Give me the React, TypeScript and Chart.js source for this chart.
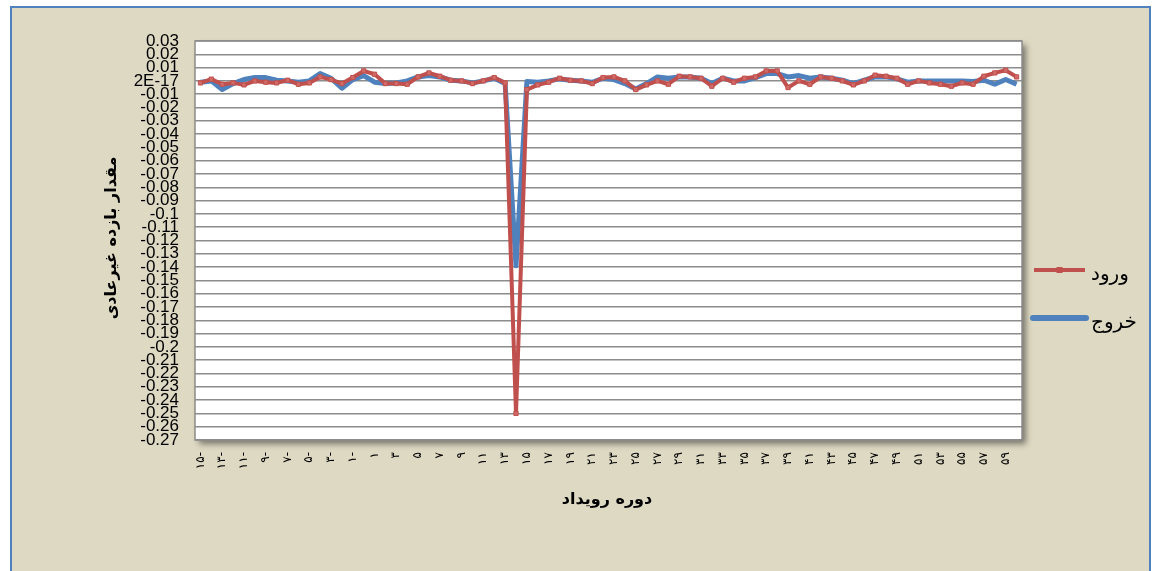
import React, { useEffect, useRef } from 'react';
import { Chart, registerables } from 'chart.js';

Chart.register(...registerables);

// Event window (days)
const categories = [
  -15, -14, -13, -12, -11, -10, -9, -8, -7, -6, -5, -4, -3, -2, -1, 0,
  1, 2, 3, 4, 5, 6, 7, 8, 9, 10, 11, 12, 13, 14, 15, 16, 17, 18, 19, 20,
  21, 22, 23, 24, 25, 26, 27, 28, 29, 30, 31, 32, 33, 34, 35, 36, 37, 38, 39, 40,
  41, 42, 43, 44, 45, 46, 47, 48, 49, 50, 51, 52, 53, 54, 55, 56, 57, 58, 59, 60,
];

// ورود (entry)
const entryValues = [
  -0.0015, 0.0013, -0.0025, -0.0015, -0.003, 0, -0.001, -0.0015, 0.0005, -0.0025,
  -0.0015, 0.003, 0.001, -0.002, 0.0025, 0.0075, 0.005, -0.002, -0.002, -0.0025,
  0.003, 0.006, 0.0035, 0.0005, 0, -0.002, 0, 0.0025, -0.0015, -0.25,
  -0.0065, -0.003, -0.001, 0.002, 0.0005, 0, -0.002, 0.0025, 0.003, 0,
  -0.0065, -0.003, 0, -0.0025, 0.0035, 0.003, 0.002, -0.004, 0.002, -0.001,
  0.002, 0.003, 0.0075, 0.0075, -0.005, 0, -0.0025, 0.003, 0.002, 0,
  -0.003, 0, 0.0043, 0.0035, 0.002, -0.0025, 0, -0.0015, -0.0025, -0.004,
  -0.0015, -0.0025, 0.0035, 0.006, 0.008, 0.003,
];

// خروج (exit)
const exitValues = [
  -0.001, 0, -0.0065, -0.002, 0.001, 0.0025, 0.0025, 0.0005, 0, -0.001,
  0, 0.0055, 0.002, -0.0055, 0.001, 0.004, -0.001, -0.002, -0.0015, 0,
  0.003, 0.004, 0.003, 0.0005, 0, -0.0015, 0, 0.002, -0.002, -0.139,
  -0.0005, -0.001, 0, 0.0015, 0.0005, 0, -0.001, 0.002, 0.001, -0.002,
  -0.006, -0.002, 0.003, 0.002, 0.003, 0.003, 0.002, -0.002, 0.002, 0,
  0, 0.0025, 0.0055, 0.0055, 0.003, 0.004, 0.002, 0.003, 0.002, 0.0005,
  -0.002, 0.0005, 0.003, 0.003, 0.0015, -0.001, 0, 0, 0, 0,
  0, -0.0005, 0.0005, -0.0025, 0.001, -0.0025,
];

const seriesNames = ['ورود', 'خروج'];
const seriesColors = ['#C0504D', '#4F81BD'];
const yTitle = 'مقدار بازده غیرعادی';
const xTitle = 'دوره رویداد';
const yMin = -0.27;
const yMax = 0.03;
const yStep = 0.01;
const zeroLabel = '2E-17';

const faDigits = '۰۱۲۳۴۵۶۷۸۹';
function toPersian(n: number): string {
  const s = String(Math.abs(n)).replace(/[0-9]/g, (d) => faDigits[Number(d)]);
  return n < 0 ? s + '-' : s;
}

function formatY(v: number): string {
  if (Math.abs(v) < 1e-9) return zeroLabel;
  const r = Math.round(v * 100) / 100;
  return String(r);
}

const AR_FONT = '"DejaVu Sans", "Noto Sans", sans-serif';

const decorPlugin = {
  id: 'decor',
  beforeDraw(chart: any) {
    const { ctx, chartArea: ca, width, height } = chart;
    ctx.save();
    ctx.fillStyle = '#ffffff';
    ctx.fillRect(0, 0, width, height);
    ctx.fillStyle = '#DDD9C3';
    ctx.fillRect(11, 7, 1139, height);
    ctx.strokeStyle = '#4F81BD';
    ctx.lineWidth = 2;
    ctx.strokeRect(11, 7, 1139, height + 20);
    ctx.shadowColor = 'rgba(0,0,0,0.45)';
    ctx.shadowBlur = 6;
    ctx.shadowOffsetX = 4;
    ctx.shadowOffsetY = 4;
    ctx.fillStyle = '#ffffff';
    ctx.fillRect(ca.left, ca.top, ca.right - ca.left, ca.bottom - ca.top);
    ctx.restore();
  },
  beforeDatasetsDraw(chart: any) {
    const { ctx, chartArea: ca } = chart;
    ctx.save();
    ctx.strokeStyle = '#8c8c8c';
    ctx.lineWidth = 1.5;
    ctx.strokeRect(ca.left, ca.top, ca.right - ca.left, ca.bottom - ca.top);
    ctx.restore();
  },
  afterDraw(chart: any) {
    const { ctx } = chart;
    ctx.save();
    // Axis titles
    ctx.fillStyle = '#000';
    ctx.font = `bold 16px ${AR_FONT}`;
    ctx.textAlign = 'center';
    ctx.textBaseline = 'middle';
    ctx.fillText(xTitle, 607, 500);
    ctx.save();
    ctx.translate(112, 238);
    ctx.rotate(-Math.PI / 2);
    ctx.fillText(yTitle, 0, 0);
    ctx.restore();

    // Legend
    const items = [
      { y: 270, x1: 1034, x2: 1085, w: 4, marker: true },
      { y: 318, x1: 1033, x2: 1086, w: 6, marker: false },
    ];
    items.forEach((it, i) => {
      ctx.strokeStyle = seriesColors[i];
      ctx.lineWidth = it.w;
      ctx.lineCap = i === 1 ? 'round' : 'butt';
      ctx.beginPath();
      ctx.moveTo(it.x1, it.y);
      ctx.lineTo(it.x2, it.y);
      ctx.stroke();
      if (it.marker) {
        ctx.fillStyle = seriesColors[i];
        ctx.fillRect((it.x1 + it.x2) / 2 - 3, it.y - 3, 6, 6);
      }
      ctx.fillStyle = '#000';
      ctx.font = `20px ${AR_FONT}`;
      ctx.textAlign = 'left';
      ctx.textBaseline = 'middle';
      ctx.fillText(seriesNames[i], 1091, it.y + 5);
    });
    ctx.restore();
  },
};

export default function App() {
  const ref = useRef<HTMLCanvasElement>(null);

  useEffect(() => {
    if (!ref.current) return;
    const chart = new Chart(ref.current, {
      type: 'line',
      data: {
        labels: categories.map(String),
        datasets: [
          {
            label: seriesNames[0],
            data: entryValues,
            borderColor: seriesColors[0],
            backgroundColor: seriesColors[0],
            borderWidth: 4,
            pointRadius: 3,
            pointStyle: 'rect',
            pointBackgroundColor: '#D06A67',
            pointBorderColor: seriesColors[0],
            pointBorderWidth: 1,
            borderJoinStyle: 'round',
            tension: 0,
          },
          {
            label: seriesNames[1],
            data: exitValues,
            borderColor: seriesColors[1],
            backgroundColor: seriesColors[1],
            borderWidth: 5,
            pointRadius: 0,
            borderJoinStyle: 'round',
            tension: 0,
          },
        ],
      },
      options: {
        responsive: false,
        animation: false,
        devicePixelRatio: 1,
        layout: { padding: { top: 41, right: 135, bottom: 0, left: 0 } },
        plugins: {
          legend: { display: false },
          tooltip: { enabled: false },
        },
        scales: {
          x: {
            type: 'category',
            offset: true,
            grid: { display: false, drawTicks: false },
            border: { display: false },
            ticks: {
              autoSkip: false,
              minRotation: 90,
              maxRotation: 90,
              padding: 12,
              color: '#000',
              font: { family: AR_FONT, size: 12 },
              callback: (_v: any, idx: number) => (idx % 2 === 0 ? toPersian(categories[idx]) : ''),
            },
            afterFit: (s: any) => {
              s.height = 131;
              s.paddingLeft = 0;
              s.paddingRight = 0;
            },
          },
          y: {
            min: yMin,
            max: yMax,
            grid: { color: '#8c8c8c', lineWidth: 1.5, drawTicks: false },
            border: { display: false },
            ticks: {
              stepSize: yStep,
              autoSkip: false,
              padding: 16,
              color: '#000',
              font: { family: '"Liberation Sans", Arial, sans-serif', size: 17 },
              callback: (v: any) => formatY(Number(v)),
            },
            afterFit: (s: any) => {
              s.width = 195;
              s.paddingTop = 0;
              s.paddingBottom = 0;
            },
          },
        },
      },
      plugins: [decorPlugin],
    });
    return () => chart.destroy();
  }, []);

  return (
    <div style={{ position: 'fixed', left: 0, top: 0, width: 1157, height: 571 }}>
      <canvas ref={ref} width={1157} height={571} style={{ display: 'block' }} />
    </div>
  );
}
